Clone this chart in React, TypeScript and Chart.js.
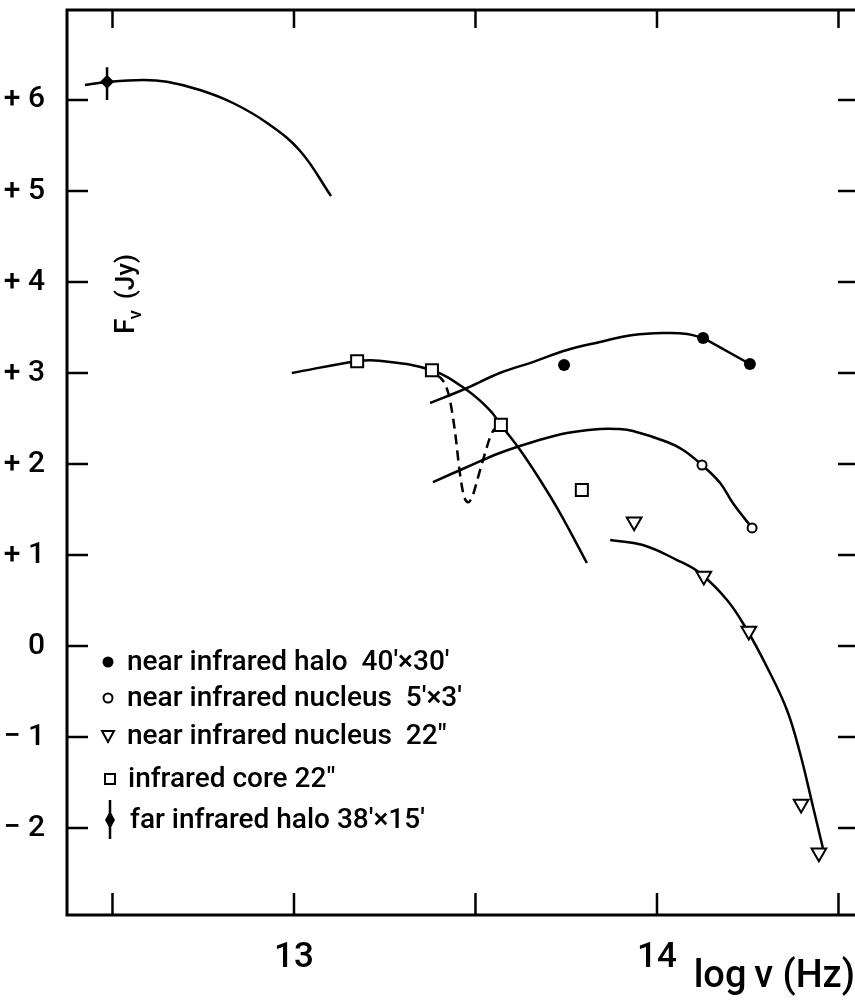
import React, { useEffect, useRef } from 'react';
import { Chart, registerables } from 'chart.js';

Chart.register(...registerables);

// ---------- axis ticks ----------
const xTicks = [12.5, 13, 13.5, 14, 14.5];
const xTickLabels = ['', '13', '', '14', ''];
const yTicks = [-2, -1, 0, 1, 2, 3, 4, 5, 6];
const yTickLabels = ['\u2212 2', '\u2212 1', '0', '+ 1', '+ 2', '+ 3', '+ 4', '+ 5', '+ 6'];

// ---------- far infrared halo 38'x15' ----------
const farHaloCurveX = [12.424, 12.485, 12.584, 12.65, 12.741, 12.832, 12.926, 13.017, 13.102];
const farHaloCurveY = [6.165, 6.198, 6.22, 6.2, 6.11, 5.967, 5.747, 5.44, 4.945];
const farHaloPointX = [12.485];
const farHaloPointY = [6.2];
const farHaloErrX = [12.485, 12.485];
const farHaloErrY = [6.0, 6.36];

// ---------- infrared core 22" ----------
const coreCurveX = [12.994, 13.174, 13.235, 13.38, 13.477, 13.54, 13.57, 13.623, 13.678, 13.733, 13.807];
const coreCurveY = [3.0, 3.13, 3.135, 3.03, 2.81, 2.59, 2.43, 2.154, 1.824, 1.46, 0.912];
const coreDipX = [13.38, 13.425, 13.443, 13.457, 13.468, 13.48, 13.492, 13.506, 13.522, 13.545, 13.57];
const coreDipY = [3.03, 2.78, 2.374, 1.9, 1.65, 1.58, 1.65, 1.84, 2.06, 2.34, 2.43];
const corePointX = [13.174, 13.38, 13.57, 13.793];
const corePointY = [3.13, 3.03, 2.43, 1.714];

// ---------- near infrared halo 40'x30' ----------
const haloCurveX = [13.375, 13.477, 13.567, 13.658, 13.752, 13.843, 13.934, 14.028, 14.083, 14.127];
const haloCurveY = [2.67, 2.835, 3.0, 3.12, 3.253, 3.341, 3.418, 3.44, 3.429, 3.385];
const haloSegX = [14.127, 14.256];
const haloSegY = [3.385, 3.099];
const haloPointX = [13.744, 14.127, 14.256];
const haloPointY = [3.088, 3.385, 3.099];

// ---------- near infrared nucleus 5'x3' ----------
const nucCurveX = [13.383, 13.477, 13.567, 13.658, 13.752, 13.843, 13.89, 13.934, 14.028, 14.072, 14.124, 14.174, 14.209, 14.262];
const nucCurveY = [1.802, 1.967, 2.121, 2.242, 2.341, 2.385, 2.385, 2.363, 2.242, 2.154, 1.989, 1.791, 1.571, 1.297];
const nucPointX = [14.124, 14.262];
const nucPointY = [1.989, 1.297];

// ---------- near infrared nucleus 22" ----------
const nuc22CurveX = [13.871, 13.961, 14.055, 14.118, 14.193, 14.248, 14.303, 14.358, 14.394, 14.43, 14.457];
const nuc22CurveY = [1.165, 1.11, 0.945, 0.802, 0.505, 0.176, -0.231, -0.703, -1.176, -1.769, -2.22];
const nuc22PointX = [13.937, 14.129, 14.253, 14.397, 14.446];
const nuc22PointY = [1.365, 0.769, 0.165, -1.736, -2.271];

const legendLabels = [
  'near infrared halo  40\u2032\u00d730\u2032',
  'near infrared nucleus  5\u2032\u00d73\u2032',
  'near infrared nucleus  22\u2033',
  'infrared core 22\u2033',
  'far infrared halo 38\u2032\u00d715\u2032',
];

const FONT = "Roboto, 'DejaVu Sans', sans-serif";

const pts = (xs: number[], ys: number[]) => xs.map((x, i) => ({ x, y: ys[i] }));

const curve = (xs: number[], ys: number[], extra: any = {}) => ({
  data: pts(xs, ys),
  showLine: true,
  borderColor: '#000',
  borderWidth: 2.5,
  pointRadius: 0,
  tension: 0.4,
  fill: false,
  ...extra,
});

const markers = (xs: number[], ys: number[], extra: any) => ({
  data: pts(xs, ys),
  showLine: false,
  pointBorderColor: '#000',
  ...extra,
});

const decorPlugin = {
  id: 'decor',
  afterDraw(chart: any) {
    const { ctx, chartArea: a, scales } = chart;
    const xs = scales.x;
    const ys = scales.y;
    ctx.save();
    ctx.strokeStyle = '#000';
    ctx.fillStyle = '#000';
    ctx.lineCap = 'butt';
    // frame (left, top, bottom; right side lies beyond the picture)
    ctx.lineWidth = 3;
    ctx.beginPath();
    ctx.moveTo(a.right + 5, a.top);
    ctx.lineTo(a.left, a.top);
    ctx.lineTo(a.left, a.bottom);
    ctx.lineTo(a.right + 5, a.bottom);
    ctx.stroke();
    // inward ticks
    ctx.lineWidth = 2.5;
    for (const v of xTicks) {
      const px = xs.getPixelForValue(v);
      ctx.beginPath();
      ctx.moveTo(px, a.bottom);
      ctx.lineTo(px, a.bottom - 22);
      ctx.stroke();
      ctx.beginPath();
      ctx.moveTo(px, a.top);
      ctx.lineTo(px, a.top + 18);
      ctx.stroke();
    }
    for (const v of yTicks) {
      const py = ys.getPixelForValue(v);
      ctx.beginPath();
      ctx.moveTo(a.left, py);
      ctx.lineTo(a.left + 21, py);
      ctx.stroke();
      ctx.beginPath();
      ctx.moveTo(a.right, py);
      ctx.lineTo(a.right - 17, py);
      ctx.stroke();
    }

    // vertical axis label F_nu (Jy)
    ctx.save();
    ctx.translate(134, 334);
    ctx.rotate(-Math.PI / 2);
    ctx.textBaseline = 'alphabetic';
    ctx.textAlign = 'left';
    ctx.font = `500 28px ${FONT}`;
    ctx.fillText('F', 0, 0);
    const wF = ctx.measureText('F').width;
    ctx.font = `500 19px ${FONT}`;
    ctx.fillText('\u03bd', wF - 1, 7);
    const wn = ctx.measureText('\u03bd').width;
    ctx.font = `500 26px ${FONT}`;
    ctx.fillText('(Jy)', wF + wn + 10, 0);
    ctx.restore();

    // legend
    const rowsY = [662, 698, 736, 779, 820];
    const textX = [127, 127, 127, 128, 130];
    ctx.font = `500 28px ${FONT}`;
    ctx.textBaseline = 'middle';
    ctx.textAlign = 'left';
    legendLabels.forEach((t, i) => ctx.fillText(t, textX[i], rowsY[i] + 1));
    // glyphs
    ctx.lineWidth = 2;
    ctx.beginPath();
    ctx.arc(108, rowsY[0], 5.5, 0, Math.PI * 2);
    ctx.fill();
    ctx.beginPath();
    ctx.arc(108, rowsY[1], 4.5, 0, Math.PI * 2);
    ctx.stroke();
    ctx.beginPath();
    ctx.moveTo(102, rowsY[2] - 5);
    ctx.lineTo(114, rowsY[2] - 5);
    ctx.lineTo(108, rowsY[2] + 6);
    ctx.closePath();
    ctx.stroke();
    ctx.strokeRect(105, rowsY[3] - 5, 10, 10);
    ctx.beginPath();
    ctx.moveTo(110, rowsY[4] - 9);
    ctx.lineTo(115, rowsY[4]);
    ctx.lineTo(110, rowsY[4] + 9);
    ctx.lineTo(105, rowsY[4]);
    ctx.closePath();
    ctx.fill();
    ctx.lineWidth = 2.5;
    ctx.beginPath();
    ctx.moveTo(110, rowsY[4] - 20);
    ctx.lineTo(110, rowsY[4] + 19);
    ctx.stroke();
    ctx.restore();
  },
};

export default function App() {
  const ref = useRef<HTMLCanvasElement>(null);
  useEffect(() => {
    const canvas = ref.current;
    if (!canvas) return;
    const chart = new Chart(canvas, {
      type: 'scatter',
      data: {
        datasets: [
          markers(farHaloPointX, farHaloPointY, { pointStyle: 'rectRot', pointRadius: 7, pointBackgroundColor: '#000', pointBorderWidth: 0 }),
          markers(haloPointX, haloPointY, { pointStyle: 'circle', pointRadius: 6, pointBackgroundColor: '#000', pointBorderWidth: 0 }),
          markers(nucPointX, nucPointY, { pointStyle: 'circle', pointRadius: 4.5, pointBackgroundColor: '#fff', pointBorderWidth: 2 }),
          markers(nuc22PointX, nuc22PointY, { pointStyle: 'triangle', pointRotation: 180, pointRadius: 8.5, pointBackgroundColor: '#fff', pointBorderWidth: 2 }),
          markers(corePointX, corePointY, { pointStyle: 'rect', pointRadius: 8.5, pointBackgroundColor: '#fff', pointBorderWidth: 2 }),
          curve(farHaloErrX, farHaloErrY, { tension: 0, borderWidth: 2.5 }),
          curve(farHaloCurveX, farHaloCurveY),
          curve(coreCurveX, coreCurveY),
          curve(coreDipX, coreDipY, { borderDash: [10, 6], borderDashOffset: 9, cubicInterpolationMode: 'monotone' }),
          curve(haloCurveX, haloCurveY),
          curve(haloSegX, haloSegY, { tension: 0 }),
          curve(nucCurveX, nucCurveY),
          curve(nuc22CurveX, nuc22CurveY),
        ] as any,
      },
      options: {
        animation: false,
        responsive: false,
        devicePixelRatio: 1,
        events: [],
        layout: { autoPadding: false, padding: { top: 10, left: 0, right: 0, bottom: 0 } },
        plugins: { legend: { display: false }, tooltip: { enabled: false }, title: { display: false } },
        scales: {
          x: {
            type: 'linear',
            min: 12.3747,
            max: 14.5455,
            grid: { display: false },
            border: { display: false },
            afterBuildTicks: (s: any) => { s.ticks = xTicks.map((v) => ({ value: v })); },
            afterFit: (s: any) => { s.height = 85; s.paddingLeft = 0; s.paddingRight = 0; s.paddingTop = 0; s.paddingBottom = 0; },
            ticks: {
              color: '#000',
              padding: 14,
              maxRotation: 0,
              autoSkip: false,
              font: { family: FONT, size: 35, weight: '500' },
              callback: (_v: any, i: number) => xTickLabels[i],
            },
            title: {
              display: true,
              text: 'log\u2009\u03bd (Hz)',
              align: 'end',
              color: '#000',
              padding: { top: 0, bottom: 0 },
              font: { family: FONT, size: 38, weight: '500' },
            },
          },
          y: {
            type: 'linear',
            min: -2.956,
            max: 6.989,
            grid: { display: false },
            border: { display: false },
            afterBuildTicks: (s: any) => { s.ticks = yTicks.map((v) => ({ value: v })); },
            afterFit: (s: any) => { s.width = 67; s.paddingLeft = 0; s.paddingRight = 0; s.paddingTop = 0; s.paddingBottom = 0; },
            ticks: {
              color: '#000',
              padding: 14,
              autoSkip: false,
              font: { family: FONT, size: 30, weight: '500' },
              callback: (_v: any, i: number) => yTickLabels[i],
            },
          },
        },
      } as any,
      plugins: [decorPlugin],
    });
    return () => chart.destroy();
  }, []);

  return (
    <div style={{ position: 'absolute', left: 0, top: 0, width: 855, height: 1000, overflow: 'hidden', background: '#fff' }}>
      <canvas ref={ref} width={855} height={1000} style={{ display: 'block', width: 855, height: 1000 }} />
    </div>
  );
}
